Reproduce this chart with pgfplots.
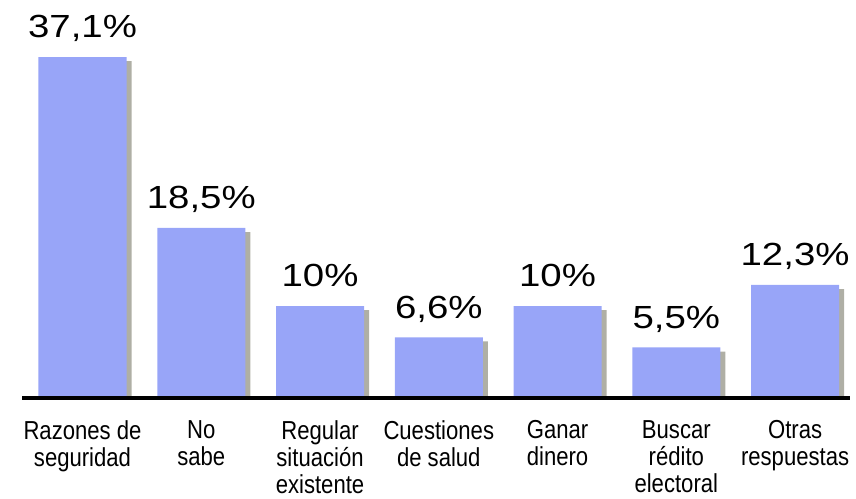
\documentclass[border=0pt]{standalone}
\usepackage{fontspec}
\usepackage{pgfplots}
\pgfplotsset{compat=1.18}
\setmainfont{Liberation Sans}
\newfontfamily\valfont[FakeStretch=1.2]{Liberation Sans}
\newfontfamily\labfont[FakeStretch=0.85]{Liberation Sans}
\definecolor{barblue}{RGB}{152,165,248}
\definecolor{shadowgray}{RGB}{175,175,165}
\definecolor{baseline}{RGB}{28,28,40}
\begin{document}
\begin{tikzpicture}
\path[use as bounding box] (-22pt,-100pt) rectangle (834pt,398pt);
\begin{axis}[
  at={(60.5pt,0pt)}, anchor=origin,
  scale only axis, width=828pt, height=386pt,
  xmin=-0.509, xmax=6.463, ymin=0, ymax=42,
  hide y axis,
  axis x line=bottom,
  x axis line style={draw=none,-},
  xtick=data, xtick style={draw=none},
  xticklabels={{Razones de\\seguridad},{No\\sabe},{Regular\\situación\\existente},{Cuestiones\\de salud},{Ganar\\dinero},{Buscar\\rédito\\electoral},{Otras\\respuestas}},
  xticklabel style={align=center, anchor=north, inner sep=0pt, yshift=-18pt, font=\labfont\fontsize{26}{27}\selectfont},
  clip=false,
  ybar, bar width=88pt,
]
\addplot[fill=shadowgray, draw=none, bar shift=5pt] coordinates {
(0,36.65) (1,18.05) (2,9.55) (3,6.15) (4,9.55) (5,5.05) (6,11.85)};
\addplot[fill=barblue, draw=none, bar shift=0pt,
  nodes near coords={\pgfmathprintnumber[use comma,fixed,assume math mode=true]{\pgfplotspointmeta}\%},
  every node near coord/.append style={font=\valfont\fontsize{32}{34}\selectfont, text=black, inner sep=0pt, text depth=0pt, anchor=south, yshift=19pt},
] coordinates {
(0,37.1) (1,18.5) (2,10) (3,6.6) (4,10) (5,5.5) (6,12.3)};
\draw[baseline, line width=4pt] (axis cs:-0.509,0) -- (axis cs:6.463,0);
\end{axis}
\end{tikzpicture}
\end{document}
